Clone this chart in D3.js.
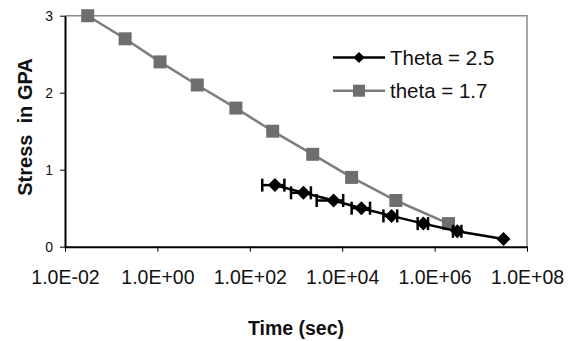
<!DOCTYPE html>
<html><head><meta charset="utf-8">
<script src="https://cdn.jsdelivr.net/npm/d3@7"></script>
<style>
html,body{margin:0;padding:0;background:#fff;}
text{font-family:"Liberation Sans",Arial,sans-serif;}
</style></head>
<body><svg id="c" width="575" height="341"></svg>
<script>
// Data
const xTickValues = [1e-2, 1e0, 1e2, 1e4, 1e6, 1e8];
const xTickLabels = ["1.0E-02", "1.0E+00", "1.0E+02", "1.0E+04", "1.0E+06", "1.0E+08"];
const yTickValues = [0, 1, 2, 3];

const theta17Time = [0.031, 0.2, 1.14, 7.3, 50, 313, 2300, 16000, 145000, 2.0e6];
const theta17Stress = [3.0, 2.7, 2.4, 2.1, 1.8, 1.5, 1.2, 0.9, 0.6, 0.3];

const theta25Time = [350, 1450, 6500, 26000, 117000, 570000, 3.1e6, 3.1e7];
const theta25Stress = [0.8, 0.7, 0.6, 0.5, 0.4, 0.3, 0.2, 0.1];
const theta25TimeLow = [186, 780, 2800, 16000, 78000, 430000, 2.5e6, null];
const theta25TimeHigh = [560, 2100, 10500, 40000, 155000, 720000, 3.8e6, null];

const seriesNames = ["Theta = 2.5", "theta = 1.7"];

const svg = d3.select("#c");
const L = 65, R = 527, T = 15.7, B = 246.7;
const x = d3.scaleLog().domain([1e-2, 1e8]).range([L, R]);
const y = d3.scaleLinear().domain([0, 3]).range([B, T]);

// plot border (top/right grey)
svg.append("path").attr("d", `M${L},${T}H${R}V${B}`)
  .attr("fill", "none").attr("stroke", "#8a8a8a").attr("stroke-width", 1.5);

// axes
const xAxis = d3.axisBottom(x).tickValues(xTickValues)
  .tickFormat((d, i) => xTickLabels[i]).tickSizeInner(5).tickSizeOuter(0).tickPadding(18);
const gx = svg.append("g").attr("transform", `translate(0,${B})`).call(xAxis);
gx.select(".domain").attr("stroke", "#000").attr("stroke-width", 2);
gx.selectAll(".tick line").attr("stroke", "#000").attr("stroke-width", 1);
gx.selectAll(".tick text").attr("font-size", 19.5).attr("fill", "#111")
  .style("font-family", '"Liberation Sans",Arial,sans-serif');

const yAxis = d3.axisLeft(y).tickValues(yTickValues).tickFormat(d3.format("d"))
  .tickSizeInner(5).tickSizeOuter(0).tickPadding(7);
const gy = svg.append("g").attr("transform", `translate(${L},0)`).call(yAxis);
gy.select(".domain").attr("stroke", "#000").attr("stroke-width", 2);
gy.selectAll(".tick line").attr("stroke", "#000").attr("stroke-width", 1);
gy.selectAll(".tick text").attr("font-size", 14).attr("fill", "#111")
  .style("font-family", '"Liberation Sans",Arial,sans-serif');

// gray series theta = 1.7
const d17 = theta17Time.map((t, i) => ({t, s: theta17Stress[i]}));
const line = d3.line().x(d => x(d.t)).y(d => y(d.s));
svg.append("path").datum(d17).attr("d", line)
  .attr("fill", "none").attr("stroke", "#7d7d7d").attr("stroke-width", 2.5);
const sq = 13;
svg.selectAll(".sq").data(d17).enter().append("rect")
  .attr("x", d => x(d.t) - sq / 2).attr("y", d => y(d.s) - sq / 2)
  .attr("width", sq).attr("height", sq).attr("fill", "#6e6e6e");

// black series theta = 2.5
const d25 = theta25Time.map((t, i) => ({t, s: theta25Stress[i], lo: theta25TimeLow[i], hi: theta25TimeHigh[i]}));
svg.append("path").datum(d25).attr("d", line)
  .attr("fill", "none").attr("stroke", "#000").attr("stroke-width", 2.5);
const eb = d25.filter(d => d.lo != null);
const ebG = svg.append("g").attr("stroke", "#000").attr("stroke-width", 2.5);
ebG.selectAll(".eh").data(eb).enter().append("line")
  .attr("x1", d => x(d.lo)).attr("x2", d => x(d.hi))
  .attr("y1", d => y(d.s)).attr("y2", d => y(d.s));
ebG.selectAll(".el").data(eb).enter().append("line")
  .attr("x1", d => x(d.lo)).attr("x2", d => x(d.lo))
  .attr("y1", d => y(d.s) - 6.5).attr("y2", d => y(d.s) + 6.5);
ebG.selectAll(".er").data(eb).enter().append("line")
  .attr("x1", d => x(d.hi)).attr("x2", d => x(d.hi))
  .attr("y1", d => y(d.s) - 6.5).attr("y2", d => y(d.s) + 6.5);
const diamond = d3.symbol().type(d3.symbolDiamond2).size(125);
svg.selectAll(".dm").data(d25).enter().append("path")
  .attr("d", diamond)
  .attr("transform", d => `translate(${x(d.t)},${y(d.s)})`)
  .attr("fill", "#000");

// legend
const lg = svg.append("g");
lg.append("line").attr("x1", 333).attr("x2", 385).attr("y1", 57.5).attr("y2", 57.5)
  .attr("stroke", "#000").attr("stroke-width", 2.5);
lg.append("path").attr("d", d3.symbol().type(d3.symbolDiamond2).size(80))
  .attr("transform", "translate(359,57.5)").attr("fill", "#000");
lg.append("text").attr("x", 390).attr("y", 64.5).attr("font-size", 20.5).attr("fill", "#111").text(seriesNames[0]);
lg.append("line").attr("x1", 333).attr("x2", 385).attr("y1", 90.7).attr("y2", 90.7)
  .attr("stroke", "#7d7d7d").attr("stroke-width", 2.5);
lg.append("rect").attr("x", 353).attr("y", 84.7).attr("width", 12).attr("height", 12).attr("fill", "#6e6e6e");
lg.append("text").attr("x", 390).attr("y", 97.7).attr("font-size", 20.5).attr("fill", "#111").text(seriesNames[1]);

// titles
svg.append("text").attr("x", 296).attr("y", 335).attr("text-anchor", "middle")
  .attr("font-size", 19.5).attr("font-weight", "bold").attr("fill", "#111").text("Time (sec)");
svg.append("text").attr("transform", "translate(32,127) rotate(-90)").attr("text-anchor", "middle")
  .attr("font-size", 20).attr("font-weight", "bold").attr("fill", "#111")
  .style("white-space", "pre").text("Stress  in GPA");
</script></body></html>
